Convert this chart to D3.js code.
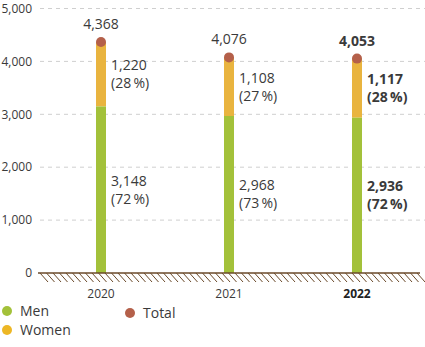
<!DOCTYPE html>
<html>
<head>
<meta charset="utf-8">
<script src="https://cdn.jsdelivr.net/npm/d3@7"></script>
<style>
  html, body { margin: 0; padding: 0; background: #fff; }
  svg { display: block; font-family: "Open Sans", "Noto Sans", sans-serif; }
</style>
</head>
<body>
<svg id="chart" width="425" height="347"></svg>
<script>
// Employees by gender, 2020–2022
const years = ["2020", "2021", "2022"];
const men = [3148, 2968, 2936];
const women = [1220, 1108, 1117];
const totals = [4368, 4076, 4053];
const menShare = [72, 73, 72];
const womenShare = [28, 27, 28];
const yTicks = [0, 1000, 2000, 3000, 4000, 5000];
const boldYear = "2022";

const colors = { men: "#a3c13a", women: "#e9b43f", total: "#b4604a", text: "#3a3a3a", axis: "#6b4a2a", grid: "#cfcfcf" };

const svg = d3.select("#chart");
const x = d3.scalePoint().domain(years).range([101, 357]);
const y = d3.scaleLinear().domain([0, 5000]).range([273, 8.5]);
const fmt = d3.format(",");
const barW = 10;

// dashed gridlines
svg.append("g").selectAll("line").data(yTicks.filter(d => d > 0)).join("line")
  .attr("x1", 40).attr("x2", 425)
  .attr("y1", d => y(d)).attr("y2", d => y(d))
  .attr("stroke", colors.grid).attr("stroke-dasharray", "4,4").attr("stroke-width", 1);

// y tick labels
svg.append("g").selectAll("text").data(yTicks).join("text")
  .attr("x", 32).attr("y", d => y(d)).attr("dy", "0.35em")
  .attr("text-anchor", "end").attr("font-size", 12).attr("fill", colors.text)
  .text(d => fmt(d));

// stacked bars
const data = years.map((yr, i) => ({ yr, men: men[i], women: women[i], total: totals[i], mp: menShare[i], wp: womenShare[i] }));
const bars = svg.append("g");
bars.selectAll("rect.women").data(data).join("rect")
  .attr("x", d => x(d.yr) - barW / 2).attr("width", barW)
  .attr("y", d => y(d.men + d.women)).attr("height", d => y(d.men) - y(d.men + d.women))
  .attr("fill", colors.women);
bars.selectAll("rect.men").data(data).join("rect")
  .attr("x", d => x(d.yr) - barW / 2).attr("width", barW)
  .attr("y", d => y(d.men)).attr("height", d => y(0) - y(d.men))
  .attr("fill", colors.men);

// baseline with ground hatching
const axisG = svg.append("g");
axisG.append("line").attr("x1", 38).attr("x2", 420).attr("y1", y(0)).attr("y2", y(0))
  .attr("stroke", colors.axis).attr("stroke-width", 1.5);
axisG.selectAll("line.h").data(d3.range(40, 420, 6.5)).join("line")
  .attr("x1", d => d).attr("y1", y(0)).attr("x2", d => d + 8).attr("y2", y(0) + 9)
  .attr("stroke", colors.axis).attr("stroke-width", 1);

// total markers
svg.append("g").selectAll("circle").data(data).join("circle")
  .attr("cx", d => x(d.yr)).attr("cy", d => y(d.total)).attr("r", 5)
  .attr("fill", colors.total);

const labels = svg.append("g").attr("fill", colors.text);
// total labels
labels.selectAll("text.total").data(data).join("text")
  .attr("x", d => x(d.yr)).attr("y", d => y(d.total) - 13)
  .attr("text-anchor", "middle").attr("font-size", 14)
  .attr("font-weight", d => d.yr === boldYear ? 700 : 400)
  .text(d => fmt(d.total));

function segLabel(sel, val, pct, top, bottom) {
  sel.each(function (d) {
    const cy = (y(top(d)) + y(bottom(d))) / 2;
    const t = d3.select(this).append("text")
      .attr("x", x(d.yr) + 10).attr("font-size", 14)
      .attr("font-weight", d.yr === boldYear ? 700 : 400);
    t.append("tspan").attr("x", x(d.yr) + 10).attr("y", cy - 4).text(fmt(val(d)));
    t.append("tspan").attr("x", x(d.yr) + 10).attr("y", cy + 14).text("(" + pct(d) + "\u2009%)");
  });
}
const segG = labels.selectAll("g.seg").data(data).join("g");
segLabel(segG, d => d.women, d => d.wp, d => d.men + d.women, d => d.men);
segLabel(segG, d => d.men, d => d.mp, d => d.men, d => 0);

// x labels
svg.append("g").selectAll("text").data(years).join("text")
  .attr("x", d => x(d)).attr("y", 298).attr("text-anchor", "middle")
  .attr("font-size", 12).attr("fill", d => d === boldYear ? "#222" : colors.text)
  .attr("font-weight", d => d === boldYear ? 700 : 400)
  .text(d => d);

// legend
const legend = [
  { label: "Men", color: colors.men, x: 7, y: 311 },
  { label: "Women", color: "#edb725", x: 7, y: 330 },
  { label: "Total", color: colors.total, x: 130, y: 313 }
];
const lg = svg.append("g").selectAll("g").data(legend).join("g");
lg.append("circle").attr("cx", d => d.x).attr("cy", d => d.y).attr("r", 5).attr("fill", d => d.color);
lg.append("text").attr("x", d => d.x + 13).attr("y", d => d.y).attr("dy", "0.35em")
  .attr("font-size", 14).attr("fill", colors.text).text(d => d.label);
</script>
</body>
</html>
